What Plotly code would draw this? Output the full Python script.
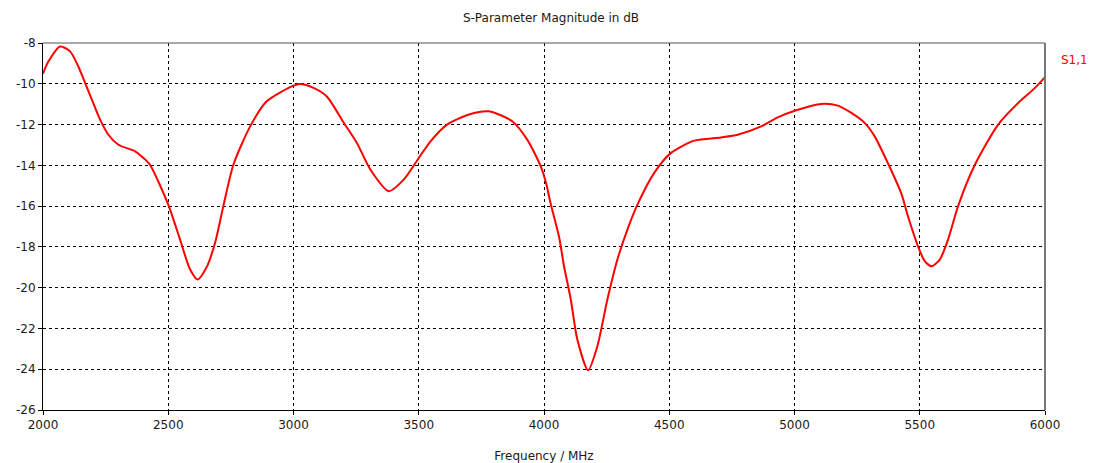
import plotly.graph_objects as go

freq_mhz = [2000, 2022, 2068, 2108, 2141, 2168, 2195, 2228, 2261, 2301, 2368, 2401, 2427,
            2500, 2547, 2587, 2617, 2653, 2687, 2720, 2760, 2827, 2893, 3000, 3027, 3080, 3133,
            3200, 3253, 3307, 3380, 3440, 3500, 3547, 3613, 3707, 3780, 3873, 3933, 3987,
            4007, 4027, 4060, 4080, 4107, 4133, 4176, 4213, 4253, 4293, 4333, 4373, 4440,
            4507, 4600, 4707, 4773, 4867, 4933, 5007, 5107, 5173, 5227, 5280, 5320, 5373,
            5427, 5453, 5493, 5520, 5547, 5580, 5613, 5653, 5720, 5813, 5893, 5960, 6000]
s11_db = [-9.5, -8.9, -8.17, -8.41, -9.15, -9.96, -10.78, -11.76, -12.5, -12.99, -13.31, -13.64, -13.97,
          -15.93, -17.64, -19.1, -19.6, -19.0, -17.8, -16.0, -13.97, -12.09, -10.86, -10.09, -10.01, -10.2, -10.62,
          -11.9, -12.9, -14.21, -15.27, -14.70, -13.64, -12.82, -12.0, -11.48, -11.35, -11.84, -12.74, -14.05,
          -14.8, -15.9, -17.5, -18.95, -20.58, -22.54, -24.05, -22.87, -20.58, -18.62, -17.15, -15.93, -14.37,
          -13.39, -12.79, -12.63, -12.5, -12.09, -11.65, -11.3, -10.99, -11.07, -11.43, -11.92, -12.58, -13.9,
          -15.4, -16.5, -17.97, -18.7, -18.95, -18.62, -17.64, -16.0, -13.97, -12.0, -10.94, -10.2, -9.67]

x_ticks = [2000, 2500, 3000, 3500, 4000, 4500, 5000, 5500, 6000]
y_ticks = [-26, -24, -22, -20, -18, -16, -14, -12, -10, -8]

FONT = "DejaVu Sans"
TXT = "#1a1a1a"

fig = go.Figure()
fig.add_trace(go.Scatter(x=freq_mhz, y=s11_db, mode="lines", name="S1,1",
                         line=dict(color="#ff0000", width=2, shape="spline", smoothing=0.7),
                         showlegend=False))

W, H = 1086, 455
fig.update_layout(
    width=W, height=H,
    margin=dict(l=35, r=49, t=35, b=53, autoexpand=False),
    paper_bgcolor="white", plot_bgcolor="white",
    font=dict(family=FONT, size=12, color=TXT),
    title=dict(text="S-Parameter Magnitude in dB", x=0.5, xanchor="center",
               y=1 - 10 / H, yanchor="middle", font=dict(family=FONT, size=12, color=TXT)),
    xaxis=dict(range=[2000, 6000], tickvals=x_ticks, ticktext=[str(v) for v in x_ticks],
               automargin=False,
               showgrid=True, gridcolor="#000000", gridwidth=1, griddash="3px,3px",
               showline=True, linecolor="#000000", linewidth=1, zeroline=False,
               ticks="outside", ticklen=4, tickcolor="#000000",
               title=dict(text="Frequency / MHz", standoff=20, font=dict(family=FONT, size=12, color=TXT))),
    yaxis=dict(range=[-26, -8], tickvals=y_ticks, ticktext=[str(v) for v in y_ticks],
               automargin=False,
               showgrid=True, gridcolor="#000000", gridwidth=1, griddash="3px,3px",
               showline=True, linecolor="#000000", linewidth=1, zeroline=False,
               ticks="outside", ticklen=4, tickcolor="#000000"),
)

# top and right frame lines (gray)
fig.add_shape(type="line", xref="paper", yref="paper", x0=0, x1=1, y0=1, y1=1,
              line=dict(color="#555555", width=1))
fig.add_shape(type="line", xref="paper", yref="paper", x0=1, x1=1, y0=0, y1=1,
              line=dict(color="#777777", width=2))

fig.add_annotation(text="S1,1", xref="paper", yref="paper", x=1, y=1, xshift=14, yshift=-17,
                   xanchor="left", yanchor="middle", showarrow=False,
                   font=dict(family=FONT, size=12, color="#ff0000"))

fig.write_html("out.html")
